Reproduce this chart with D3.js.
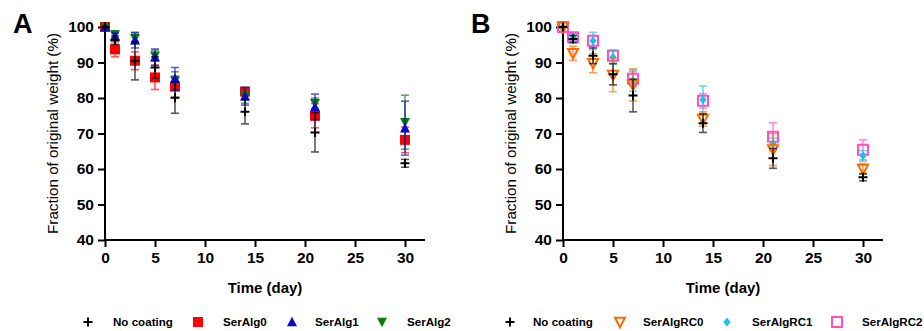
<!DOCTYPE html>
<html>
<head>
<meta charset="utf-8">
<script src="https://cdn.jsdelivr.net/npm/d3@7"></script>
<style>
  html, body { margin: 0; padding: 0; background: #fff; }
  svg { display: block; font-family: "Liberation Sans", Arial, sans-serif; }
</style>
</head>
<body>
<svg id="chart" width="924" height="331"></svg>
<script>
// Sampling days
const days = [0, 1, 3, 5, 7, 14, 21, 30];

// Panel A: weight fraction (%) mean and SD
const noCoatingA = [100, 96.3, 90.5, 88.6, 80.1, 76.1, 70.3, 61.6];
const noCoatingA_sd = [0, 1.2, 5.4, 3.0, 4.4, 3.4, 5.5, 1.1];
const serAlg0 = [100, 93.7, 90.5, 85.8, 83.2, 81.8, 75.0, 68.2];
const serAlg0_sd = [0, 2.1, 2.5, 3.4, 3.0, 1.0, 3.4, 3.6];
const serAlg1 = [100, 97.3, 96.3, 91.5, 85.4, 80.5, 77.5, 71.5];
const serAlg1_sd = [0, 1.0, 2.2, 2.3, 3.2, 2.5, 3.6, 7.6];
const serAlg2 = [100, 97.9, 96.8, 91.9, 84.9, 80.5, 78.5, 73.2];
const serAlg2_sd = [0, 1.0, 1.5, 1.5, 2.5, 2.0, 1.5, 7.6];

// Panel B: weight fraction (%) mean and SD
const noCoatingB = [100, 96.6, 91.9, 86.7, 80.7, 72.9, 63.0, 57.7];
const noCoatingB_sd = [0, 1.0, 2.2, 3.0, 4.6, 2.6, 2.8, 1.0];
const serAlgRC0 = [100, 92.6, 89.8, 86.5, 83.7, 74.1, 65.5, 60.0];
const serAlgRC0_sd = [0, 2.0, 2.7, 4.7, 4.5, 2.0, 4.5, 1.5];
const serAlgRC1 = [100, 97.1, 96.1, 91.5, 84.9, 79.5, 67.2, 63.7];
const serAlgRC1_sd = [0, 1.0, 2.4, 2.0, 3.0, 3.9, 1.5, 1.5];
const serAlgRC2 = [100, 97.1, 96.1, 91.9, 85.4, 79.2, 69.1, 65.4];
const serAlgRC2_sd = [0, 1.0, 1.5, 1.5, 2.0, 2.0, 3.9, 2.8];

// Axis ticks
const xTicks = [0, 5, 10, 15, 20, 25, 30];
const yTicks = [40, 50, 60, 70, 80, 90, 100];

const svg = d3.select("#chart");

// Marker shapes
function markerPath(kind, s) {
  const h = s / 2;
  switch (kind) {
    case "plus": return `M${-h},0H${h}M0,${-h}V${h}`;
    case "square": return `M${-h},${-h}H${h}V${h}H${-h}Z`;
    case "tri-up": return `M0,${-h * 1.05}L${h},${h * 0.85}L${-h},${h * 0.85}Z`;
    case "tri-down": return `M0,${h * 1.05}L${h},${-h * 0.85}L${-h},${-h * 0.85}Z`;
    case "diamond": return `M0,${-h}L${h * 0.8},0L0,${h}L${-h * 0.8},0Z`;
  }
}

function drawMarker(g, kind, style, size) {
  const p = g.append("path").attr("d", markerPath(kind, size));
  if (style.fill) {
    p.attr("fill", style.color).attr("stroke", "none");
  } else {
    p.attr("fill", "none").attr("stroke", style.color).attr("stroke-width", style.sw || 2);
  }
  return p;
}

function panel(opts) {
  const { x0, letter, series } = opts;
  const x = d3.scaleLinear().domain([0, 32]).range([x0, x0 + 320]);
  const y = d3.scaleLinear().domain([40, 100]).range([240, 27]);

  const g = svg.append("g");

  // Axes
  const xAxis = d3.axisBottom(x).tickValues(xTicks).tickSize(7).tickPadding(5).tickSizeOuter(0);
  const yAxis = d3.axisLeft(y).tickValues(yTicks).tickSize(7).tickPadding(4).tickSizeOuter(0);

  const gx = g.append("g").attr("transform", "translate(0,240)").call(xAxis);
  const gy = g.append("g").attr("transform", `translate(${x0},0)`).call(yAxis);
  [gx, gy].forEach(a => {
    a.select(".domain").attr("stroke", "#000").attr("stroke-width", 2);
    a.selectAll(".tick line").attr("stroke", "#000").attr("stroke-width", 2);
    a.selectAll(".tick text").attr("fill", "#000").attr("font-size", 15.5)
      .attr("font-weight", "bold").attr("font-family", "Liberation Sans, Arial, sans-serif");
  });
  gx.select(".domain").attr("d", `M${x0 - 1},0H${x0 + 320}`);
  gy.select(".domain").attr("d", `M0,${y(100) - 1}V241`);

  // Axis titles
  g.append("text")
    .attr("x", x(16)).attr("y", 293)
    .attr("text-anchor", "middle")
    .attr("font-size", 15).attr("font-weight", "bold")
    .text("Time (day)");
  g.append("text")
    .attr("transform", `translate(${x0 - 47},${(y(40) + y(100)) / 2}) rotate(-90)`)
    .attr("text-anchor", "middle")
    .attr("font-size", 15.2)
    .text("Fraction of original weight (%)");

  // Panel letter
  g.append("text")
    .attr("x", x0 - 92).attr("y", 33)
    .attr("font-size", 27).attr("font-weight", "bold")
    .text(letter);

  // Series: error bars, then markers
  series.forEach(s => {
    const sg = g.append("g");
    days.forEach((d, i) => {
      const cx = x(d), m = s.values[i], e = s.sd[i];
      if (e > 0) {
        const eg = sg.append("g").attr("stroke", s.color).attr("stroke-width", 1.6).attr("opacity", 0.65);
        eg.append("line").attr("x1", cx).attr("x2", cx).attr("y1", y(m - e)).attr("y2", y(m + e));
        eg.append("line").attr("x1", cx - 4).attr("x2", cx + 4).attr("y1", y(m + e)).attr("y2", y(m + e));
        eg.append("line").attr("x1", cx - 4).attr("x2", cx + 4).attr("y1", y(m - e)).attr("y2", y(m - e));
      }
    });
    days.forEach((d, i) => {
      const mg = sg.append("g").attr("transform", `translate(${x(d)},${y(s.values[i])})`);
      drawMarker(mg, s.kind, s, s.size);
    });
  });

  // Legend
  const lg = g.append("g");
  opts.legend.forEach((it, i) => {
    const s = series.find(q => q.name === it.name);
    const mg = lg.append("g").attr("transform", `translate(${it.mx},322)`);
    drawMarker(mg, s.kind, s, s.legendSize);
    lg.append("text")
      .attr("x", it.tx).attr("y", 326)
      .attr("font-size", 11.6).attr("font-weight", "bold")
      .text(s.name);
  });
}

const black = { name: "No coating", kind: "plus", color: "#000", fill: false, sw: 2, size: 9, legendSize: 9 };

panel({
  x0: 105, letter: "A",
  series: [
    { name: "SerAlg0", kind: "square", color: "#ff0000", fill: true, size: 10, legendSize: 10, values: serAlg0, sd: serAlg0_sd },
    { name: "SerAlg2", kind: "tri-down", color: "#0b7a0b", fill: true, size: 10, legendSize: 10, values: serAlg2, sd: serAlg2_sd },
    { name: "SerAlg1", kind: "tri-up", color: "#0a0ac8", fill: true, size: 10, legendSize: 10, values: serAlg1, sd: serAlg1_sd },
    Object.assign({}, black, { values: noCoatingA, sd: noCoatingA_sd })
  ],
  legend: [
    { name: "No coating", mx: 88, tx: 113 },
    { name: "SerAlg0", mx: 198, tx: 223 },
    { name: "SerAlg1", mx: 292, tx: 315 },
    { name: "SerAlg2", mx: 382, tx: 407 }
  ]
});

panel({
  x0: 563, letter: "B",
  series: [
    { name: "SerAlgRC2", kind: "square", color: "#ff4fc8", fill: false, sw: 2, size: 10, legendSize: 10, values: serAlgRC2, sd: serAlgRC2_sd },
    { name: "SerAlgRC1", kind: "diamond", color: "#1ec0ea", fill: true, size: 9, legendSize: 9, values: serAlgRC1, sd: serAlgRC1_sd },
    { name: "SerAlgRC0", kind: "tri-down", color: "#ff6a00", fill: false, sw: 2, size: 10, legendSize: 10, values: serAlgRC0, sd: serAlgRC0_sd },
    Object.assign({}, black, { values: noCoatingB, sd: noCoatingB_sd })
  ],
  legend: [
    { name: "No coating", mx: 510, tx: 533 },
    { name: "SerAlgRC0", mx: 620, tx: 643 },
    { name: "SerAlgRC1", mx: 727, tx: 752 },
    { name: "SerAlgRC2", mx: 837, tx: 862 }
  ]
});
</script>
</body>
</html>
